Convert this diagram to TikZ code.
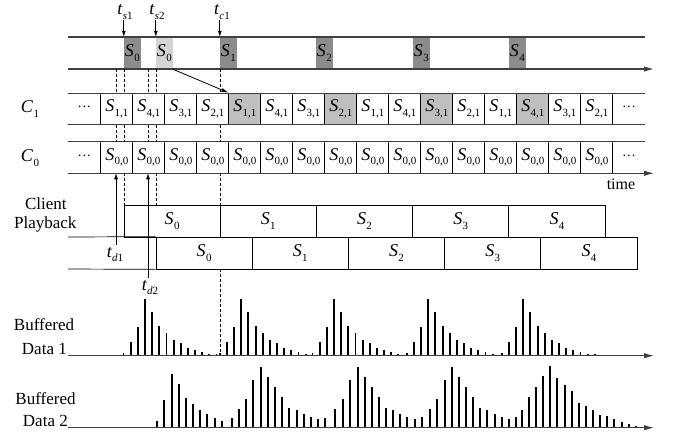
\documentclass[tikz,border=0pt]{standalone}
\usepackage{fontspec}
\setmainfont{Liberation Serif}
\usetikzlibrary{arrows.meta}
\definecolor{dgray}{gray}{0.55}
\definecolor{lgray}{gray}{0.83}
\definecolor{cgray}{gray}{0.75}
\newcommand\Ssub[1]{{\fontsize{18}{20}\selectfont\itshape S}\kern0.3pt\raisebox{-4.5pt}{\fontsize{11}{12}\selectfont #1}}
\newcommand\Tsub[2]{{\fontsize{18}{20}\selectfont\itshape t}\kern0.3pt\raisebox{-4.5pt}{\fontsize{11}{12}\selectfont\itshape #1\upshape #2}}
\newcommand\Csub[1]{{\fontsize{18}{20}\selectfont\itshape C}\kern0.5pt\raisebox{-4.5pt}{\fontsize{11}{12}\selectfont #1}}
\begin{document}
\begin{tikzpicture}[x=1pt,y=-1pt,
  rail/.style={line width=1.1pt, black!75},
  cellbox/.style={draw=black, line width=0.7pt, minimum width=32pt, minimum height=31.5pt, inner sep=0pt},
  segbox/.style={draw=black, line width=0.7pt, minimum width=96.2pt, minimum height=32pt, inner sep=0pt},
  topbox/.style={minimum width=16.7pt, minimum height=32pt, inner sep=0pt},
  dsh/.style={dash pattern=on 3pt off 2pt, line width=0.7pt},
  bigarr/.style={-{Latex[length=10pt,width=5.5pt]}},
  smarr/.style={line width=0.7pt, -{Latex[length=6pt,width=4pt]}},
  bar/.style={line width=1.9pt},
  lbl/.style={font=\fontsize{17}{20}\selectfont, inner sep=0pt},
  dots/.style={font=\fontsize{14}{14}\selectfont, inner sep=0pt}]

\useasboundingbox (0,0) rectangle (674,437);

% ---------- top row ----------
\node[topbox, fill=dgray] (b0) at (132.35,53) {\Ssub{0}};
\node[topbox, fill=lgray] (b0b) at (164.35,53) {\Ssub{0}};
\node[topbox, fill=dgray] (b1) at (228.35,53) {\Ssub{1}};
\node[topbox, fill=dgray] (b2) at (324.35,53) {\Ssub{2}};
\node[topbox, fill=dgray] (b3) at (421.35,53) {\Ssub{3}};
\node[topbox, fill=dgray] (b4) at (517.35,53) {\Ssub{4}};
\draw[rail] (68,37) -- (645,37);
\draw[rail, bigarr] (68,69) -- (654,69);

\node[lbl] (ts1) at (125,12) {\Tsub{s}{1}};
\node[lbl] (ts2) at (157,12) {\Tsub{s}{2}};
\node[lbl] (tc1) at (222,12) {\Tsub{c}{1}};
\draw[smarr] (ts1.south -| b0.north west) -- (b0.north west);
\draw[smarr] (ts2.south -| b0b.north west) -- (b0b.north west);
\draw[smarr] (tc1.south -| b1.north west) -- (b1.north west);

% ---------- C1 row ----------
\node[lbl] (C1) at (30,108.8) {\Csub{1}};
\foreach \k/\n/\f in {0/1/white,1/4/white,2/3/white,3/2/white,4/1/cgray,5/4/white,6/3/white,7/2/cgray,8/1/white,9/4/white,10/3/cgray,11/2/white,12/1/white,13/4/cgray,14/3/white,15/2/white}{
  \node[cellbox, fill=\f] (c1-\k) at ({116.8+32*\k},108.8) {\Ssub{\n,1}};
}
\node[dots] (c1l) at (84.4,108.8) {···};
\node[dots] (c1r) at (629,108.8) {···};
\draw[rail] (68,93.05) -- (645,93.05);
\draw[rail] (68,124.55) -- (645,124.55);

% ---------- C0 row ----------
\node[lbl] (C0) at (30,158) {\Csub{0}};
\foreach \k in {0,...,15}{
  \node[cellbox, fill=white] (c0-\k) at ({116.8+32*\k},157.5) {\Ssub{0,0}};
}
\node[dots] (c0l) at (84.4,157.5) {···};
\node[dots] (c0r) at (629,157.5) {···};
\draw[rail] (68,141.75) -- (645,141.75);
\draw[rail, bigarr] (68,173.25) -- (654,173.25);
\node[font=\fontsize{16}{18}\selectfont, inner sep=0pt] (time) at (621,184.5) {time};

% diagonal arrow
\draw[line width=0.8pt, -{Latex[length=7pt,width=4pt]}] (b0b.south east) -- (c1-4.north west);

% ---------- dashed guides ----------
\foreach \x in {116,124,148,156,220}{
  \draw[dsh] (\x,69) -- (\x,93.05);
  \draw[dsh] (\x,124.55) -- (\x,141.75);
}
\foreach \x in {124,156,220}{
  \draw[dsh] (\x,173.25) -- (\x,205);
}
\draw[dsh] (220,269) -- (220,355.7);

% ---------- client playback ----------
\node[lbl] (cl) at (45.8,203.5) {Client};
\node[lbl] (pb) at (45.3,224.5) {Playback};
\foreach \k in {0,...,4}{
  \node[segbox, fill=white] (p1-\k) at ({124+48.1+96.2*\k},221) {\Ssub{\k}};
  \node[segbox, fill=white] (p2-\k) at ({156+48.1+96.2*\k},253) {\Ssub{\k}};
}
\draw[line width=0.7pt] (68,237) -- (p2-0.north west);
\draw[line width=0.7pt] (68,269) -- (p2-0.south west);

% t_d arrows
\node[lbl, anchor=north] (td1) at (115,247) {\Tsub{d}{1}};
\node[lbl, anchor=north] (td2) at (150,280) {\Tsub{d}{2}};
\coordinate (d1) at (116,173.25);
\coordinate (d2) at (148,173.25);
\draw[smarr] (td1.north -| d1) ++(0,-2) -- (d1);
\draw[smarr] (td2.north -| d2) ++(0,-2) -- (d2);

% ---------- buffered data 1 ----------
\node[lbl, anchor=base] (bf1) at (44,330) {Buffered};
\node[lbl, anchor=base east] (bd1) at (67,354) {Data 1};
\foreach \p in {145,241.3,334,428.3,523.3}{
  \foreach \o/\h in {-21.5/2.3,-14.3/14,-7.2/29,0/57,7.1/44,14.3/30,21.5/23,28.6/16,35.7/13,42.9/8,50/6,57.2/3.3,64.3/1.7}{
    \draw[bar] ({\p+(\o)},355.7) -- ({\p+(\o)},{355.7-\h});
  }
}
\draw[bar] (216.5,355.7) -- (216.5,353.7);
\draw[bar] (594.8,355.7) -- (594.8,353.7);
\draw[rail, bigarr] (68,355.7) -- (654,355.7);

% ---------- buffered data 2 ----------
\node[lbl, anchor=base] (bf2) at (45.5,404.3) {Buffered};
\node[lbl, anchor=base east] (bd2) at (68,426.5) {Data 2};
\foreach \x/\h in {157.3/7,164.3/28,171.7/54,179/44,186/30,193.3/24,200.3/18,207.3/14,214.7/10,222/7,
  231.7/10,239/19,246/29,253.3/48,260.7/61,267.7/51,275/41,282/31,289.3/20,296.7/18,303.7/14,310.7/11,318/9,325/10,
  335.3/19,343.3/29,350.3/48,357.7/61,364.7/51,371.7/41,379/31,386/20,393/18,400.3/14,407.3/11,414.7/9,422/11,
  430.3/19,437.3/29,444.7/48,452/61,459/51,466/41,473.3/31,480.3/20,487.3/18,494.7/14,501.7/11,509/9,516/11,
  521.7/18,529/31,536/41,543.3/52,550.3/62,557.3/50,564.7/43,571.7/37,578.7/25,586/22,593/18,600.3/13,607.3/12,614.3/9,621.7/6,628.7/4,636/2}{
  \draw[bar] (\x,427.7) -- (\x,{427.7-\h});
}
\draw[rail, bigarr] (68,427.7) -- (654,427.7);
\end{tikzpicture}
\end{document}
